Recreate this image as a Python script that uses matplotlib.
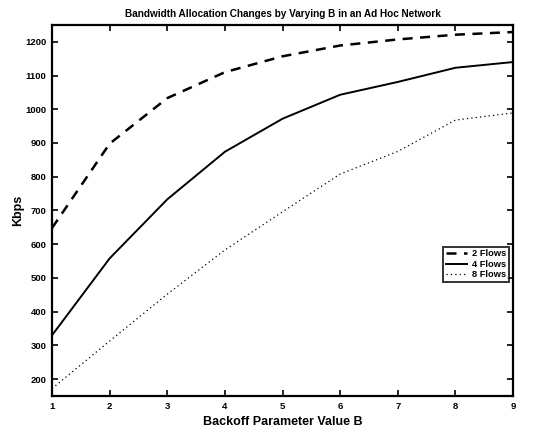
import matplotlib
matplotlib.use("Agg")
import matplotlib.pyplot as plt

plt.rcParams['font.family'] = ['Liberation Sans', 'DejaVu Sans']

B = [1, 2, 3, 4, 5, 6, 7, 8, 9]
flows2 = [648, 898, 1033, 1110, 1157, 1189, 1207, 1221, 1229]
flows4 = [330, 558, 733, 874, 972, 1043, 1081, 1123, 1140]
flows8 = [172, 313, 452, 583, 696, 808, 875, 968, 989]
labels = ['2 Flows', '4 Flows', '8 Flows']
xticks = [1, 2, 3, 4, 5, 6, 7, 8, 9]
yticks = [200, 300, 400, 500, 600, 700, 800, 900, 1000, 1100, 1200]

fig = plt.figure(figsize=(5.33, 4.32), dpi=100)
ax = fig.add_axes([0.0976, 0.0833, 0.865, 0.859])

ax.plot(B, flows2, color='black', linestyle=(0, (4, 3)), linewidth=1.8, label=labels[0])
ax.plot(B, flows4, color='black', linestyle='-', linewidth=1.4, label=labels[1])
ax.plot(B, flows8, color='black', linestyle=(0, (1, 2.5)), linewidth=0.9, label=labels[2])

ax.set_xlim(1, 9)
ax.set_ylim(150, 1250)
ax.set_xticks(xticks)
ax.set_yticks(yticks)
ax.tick_params(direction='in', top=True, right=True, length=4, width=1.2,
               labelsize=6.8, pad=4)
for lab in ax.get_xticklabels() + ax.get_yticklabels():
    lab.set_fontweight('bold')
for s in ax.spines.values():
    s.set_linewidth(1.6)

ax.set_title('Bandwidth Allocation Changes by Varying B in an Ad Hoc Network',
             fontsize=7.2, fontweight='bold', pad=6)
ax.set_xlabel('Backoff Parameter Value B', fontsize=9, fontweight='bold', labelpad=4)
ax.set_ylabel('Kbps', fontsize=9, fontweight='bold', labelpad=1)

leg = ax.legend(loc='center right', bbox_to_anchor=(0.998, 0.355),
                frameon=True, fancybox=False, borderpad=0.3, labelspacing=0.15,
                handlelength=2.2, handletextpad=0.6, borderaxespad=0.3,
                prop={'weight': 'bold', 'size': 6.7})
leg.get_frame().set_edgecolor('black')
leg.get_frame().set_linewidth(1.4)

fig.savefig('out.png', dpi=100)
